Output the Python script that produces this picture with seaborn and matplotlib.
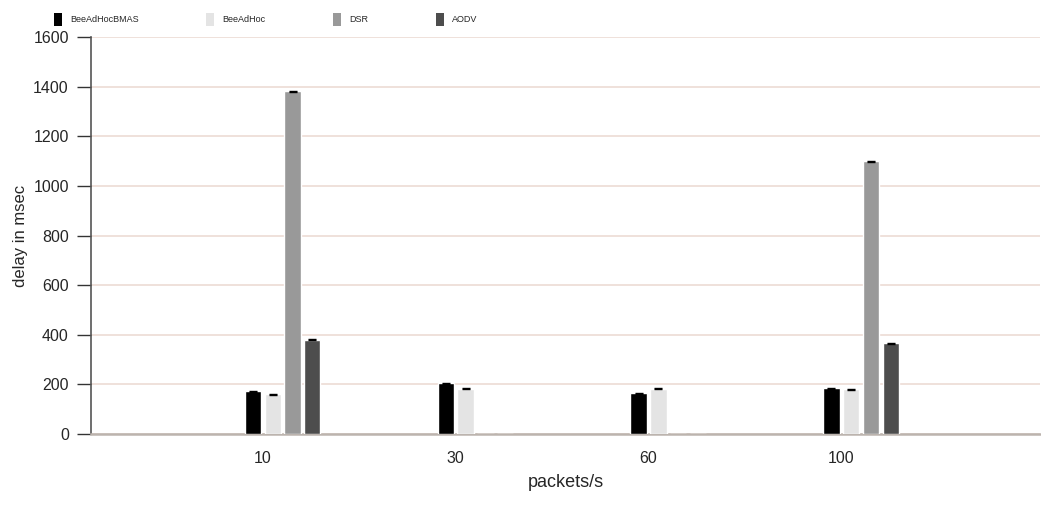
import numpy as np
import pandas as pd
import matplotlib
matplotlib.use("Agg")
import matplotlib.pyplot as plt
from matplotlib import font_manager
import seaborn as sns

# Mean end-to-end delay per protocol and traffic rate
rates = ["10", "30", "60", "100"]
protocols = ["BeeAdHocBMAS", "BeeAdHoc", "DSR", "AODV"]
bmas = [173, 205, 165, 185]
beeadhoc = [160, 182, 183, 180]
dsr = [1382, 0, 0, 1100]
aodv = [380, 0, 0, 365]
errors_bmas = [2, 2, 2, 2]
errors_bee = [2, 2, 2, 2]
errors_dsr = [2, 0, 0, 2]
errors_aodv = [2, 0, 0, 2]
yticks = [0, 200, 400, 600, 800, 1000, 1200, 1400, 1600]

colors = ["#000000", "#e4e4e4", "#999999", "#4d4d4d"]

series = [bmas, beeadhoc, dsr, aodv]
errs = [errors_bmas, errors_bee, errors_dsr, errors_aodv]
rows = []
for p, vals, ev in zip(protocols, series, errs):
    for r, v, e in zip(rates, vals, ev):
        rows.append({"rate": r, "protocol": p, "delay": v, "err": e})
df = pd.DataFrame(rows)

sns.set_style("white")
plt.rcParams["font.family"] = ["Liberation Sans", "DejaVu Sans"]

installed = {f.name for f in font_manager.fontManager.ttflist}
legend_family = "Liberation Sans Narrow" if "Liberation Sans Narrow" in installed else "Liberation Sans"

fig = plt.figure(figsize=(10.41, 5.07), dpi=100)
ax = fig.add_axes([0.0874, 0.144, 0.912, 0.783])

sns.barplot(data=df, x="rate", y="delay", hue="protocol", order=rates,
            hue_order=protocols, palette=colors, width=0.41, gap=0.17,
            errorbar=None, saturation=1, ax=ax, zorder=3, legend=True)

# error caps on top of each bar
for container, p in zip(ax.containers, protocols):
    sub = df[df["protocol"] == p].set_index("rate").loc[rates]
    for bar, v, e in zip(container, sub["delay"], sub["err"]):
        if v <= 0:
            continue
        cx = bar.get_x() + bar.get_width() / 2
        ax.errorbar(cx, v, yerr=e, fmt="none", ecolor="black",
                    elinewidth=0.8, capsize=2.8, capthick=1.0, zorder=4)

ax.set_ylim(0, 1600)
ax.set_yticks(yticks)
ax.set_yticklabels([str(t) for t in yticks], fontsize=11.5)
ax.set_xlim(-0.994, 3.93)
shift = 0.106
ax.set_xticks(np.arange(len(rates)) - shift)
ax.set_xticklabels(rates, fontsize=11.5)
ax.tick_params(axis="x", length=0, pad=12)
ax.tick_params(axis="y", length=10, width=1, color="#333333", pad=6, left=True)

ax.yaxis.grid(True, color="#ecdcd4", linewidth=1.2, zorder=0)
ax.xaxis.grid(False)
for s in ["top", "right"]:
    ax.spines[s].set_visible(False)
ax.spines["left"].set_color("#555555")
ax.spines["left"].set_linewidth(1.2)
ax.spines["bottom"].set_color("#bcb4ae")
ax.spines["bottom"].set_linewidth(1.8)

ax.set_xlabel("packets/s", fontsize=13, labelpad=6)
ax.set_ylabel("delay in msec", fontsize=12, labelpad=4)

handles, labels = ax.get_legend_handles_labels()
for h in handles:
    h.set_linewidth(0)
ax.legend(handles, labels, loc="lower left", bbox_to_anchor=(-0.039, 1.028),
          ncol=4, frameon=False,
          prop={"family": legend_family, "size": 6.5},
          handlelength=0.89, handleheight=1.84, handletextpad=0.89,
          columnspacing=7.5, borderaxespad=0, borderpad=0)

fig.savefig("out.png", dpi=100)
